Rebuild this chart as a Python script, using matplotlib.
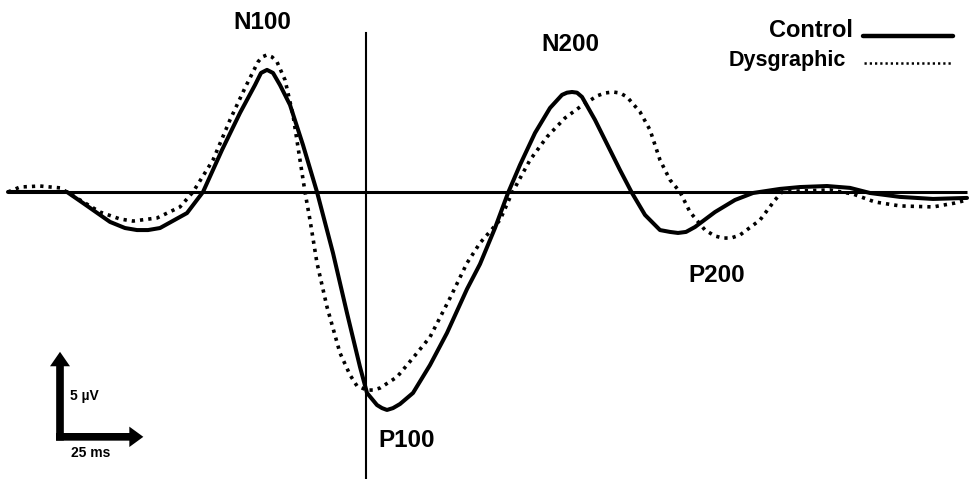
import matplotlib
matplotlib.use("Agg")
import matplotlib.pyplot as plt
from matplotlib.patches import FancyArrow

plt.rcParams['font.family'] = ['Liberation Sans', 'DejaVu Sans']

# time (ms) and amplitude (µV)
control_t = [-7.4, 2.2, 10.3, 15.1, 23.2, 27.7, 31.3, 34.6, 38.2, 46.3, 51.1, 56.8, 62.2, 66.7,
             68.5, 70.3, 72.1, 74.2, 77.2, 81.1, 85.3, 90.1, 94.3, 98.2, 100.3, 103.3, 104.8,
             106.3, 108.1, 110.2, 114.1, 119.2, 124.3, 130.3, 134.2, 138.7, 142.6, 146.2, 150.7,
             155.2, 158.8, 160.3, 161.8, 163.3, 164.8, 168.7, 173.2, 176.2, 179.8, 183.7, 188.2,
             191.2, 193.6, 196.0, 198.7, 204.7, 210.7, 216.1, 224.2, 230.2, 238.3, 245.2, 251.2,
             260.2, 270.1, 280.3]
control_v = [0, 0, 0, -0.65, -1.76, -2.12, -2.24, -2.24, -2.12, -1.24, 0, 2.47, 4.65, 6.29,
             7.0, 7.18, 7.0, 6.29, 5.12, 2.76, 0, -3.59, -7.12, -10.29, -11.82, -12.53, -12.71,
             -12.82, -12.71, -12.47, -11.82, -10.18, -8.29, -5.71, -4.24, -2.12, -0.06, 1.59, 3.47,
             4.94, 5.71, 5.84, 5.88, 5.84, 5.59, 4.24, 2.47, 1.29, -0.06, -1.35, -2.24,
             -2.35, -2.41, -2.35, -2.06, -1.18, -0.47, -0.06, 0.18, 0.29, 0.35, 0.24, -0.06,
             -0.29, -0.41, -0.35]

dys_t = [-7.4, -3.8, 2.2, 8.2, 14.2, 20.2, 26.2, 30.1, 37.3, 44.2, 48.1, 54.1, 59.2, 63.7,
         67.6, 68.8, 70.3, 71.8, 73.3, 75.7, 78.1, 80.2, 81.7, 83.2, 85.3, 88.3, 92.2, 95.2,
         97.3, 100.3, 102.1, 104.2, 109.3, 114.1, 119.2, 125.2, 130.3, 134.2, 140.2, 143.8,
         149.2, 154.3, 159.7, 164.2, 169.3, 171.7, 174.1, 176.2, 178.3, 182.2, 185.2, 188.2,
         191.2, 194.2, 197.2, 201.7, 204.7, 207.1, 209.5, 212.2, 218.2, 222.7, 224.8, 230.2,
         239.2, 246.1, 252.7, 260.2, 270.1, 276.7, 280.3]
dys_v = [0, 0.29, 0.35, 0.24, -0.47, -1.18, -1.59, -1.71, -1.53, -0.88, 0, 1.88, 4.24, 6.12,
         7.65, 7.94, 8.06, 7.94, 7.65, 6.59, 4.53, 1.88, 0, -1.65, -4.18, -6.76, -9.47, -10.76,
         -11.41, -11.65, -11.65, -11.53, -10.88, -9.76, -8.53, -6.24, -4.18, -3.0, -1.65, -0.06,
         1.88, 3.24, 4.35, 5.0, 5.65, 5.82, 5.88, 5.82, 5.59, 4.71, 3.65, 1.88,
         0.71, 0, -1.18, -2.24, -2.59, -2.71, -2.71, -2.53, -1.65, -0.47, 0, 0.06,
         0.12, -0.12, -0.59, -0.82, -0.88, -0.65, -0.47]

series_names = ["Control", "Dysgraphic"]
peak_labels = ["N100", "P100", "N200", "P200"]
peak_label_pos = [(69.0, 9.95), (112.3, -14.6), (161.2, 8.7), (205.3, -4.9)]

fig = plt.figure(figsize=(9.75, 4.79), dpi=100)
ax = fig.add_axes([0, 0, 1, 1])
ax.set_xlim(-9.8, 282.7)
ax.set_ylim(-16.88, 11.29)
ax.axis('off')

# baseline and time-reference line
ax.plot([-7.4, 280.3], [0, 0], color='black', lw=2.2, solid_capstyle='butt')
ax.plot([100, 100], [9.35, -16.88], color='black', lw=1.5)

ax.plot(control_t, control_v, color='black', lw=2.9, solid_joinstyle='round',
        solid_capstyle='round')
ax.plot(dys_t, dys_v, color='black', lw=2.6, linestyle=(0, (0.9, 1.4)),
        dash_capstyle='butt')

for lab, (x, y) in zip(peak_labels, peak_label_pos):
    ax.text(x, y, lab, fontsize=17.5, fontweight='bold', ha='center', va='center',
            color='black')

# legend-like labels
ax.text(246.0, 9.5, series_names[0], fontsize=17, fontweight='bold', ha='right', va='center')
ax.plot([249.2, 276.2], [9.2, 9.2], color='black', lw=3.2, solid_capstyle='round')
ax.text(244.0, 7.75, series_names[1], fontsize=15.5, fontweight='bold',
        ha='right', va='center')
ax.plot([249.5, 276.2], [7.6, 7.6], color='black', lw=1.8, linestyle=(0, (0.9, 1.2)))

# scale bar: 25 ms, 5 µV
x0, y0 = 8.2, -14.4
ax.add_patch(FancyArrow(x0 - 1.2, y0, 25 + 1.2, 0, width=0.45, head_width=1.2,
                        head_length=4.2, length_includes_head=True,
                        color='black', lw=0))
ax.add_patch(FancyArrow(x0, y0 - 0.22, 0, 5 + 0.22, width=2.3, head_width=6.0,
                        head_length=0.85, length_includes_head=True,
                        color='black', lw=0))
ax.text(x0 + 3.0, y0 + 2.4, "5 µV", fontsize=10, fontweight='bold', ha='left', va='center')
ax.text(x0 + 3.4, y0 - 0.95, "25 ms", fontsize=10, fontweight='bold', ha='left', va='center')

fig.savefig("out.png", dpi=100)
